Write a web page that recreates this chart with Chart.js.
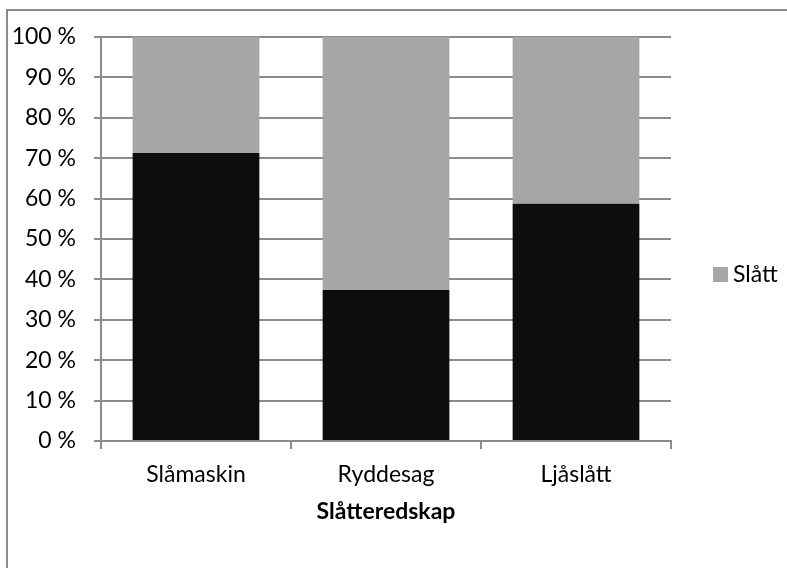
<!DOCTYPE html>
<html>
<head>
<meta charset="utf-8">
<script src="https://cdn.jsdelivr.net/npm/chart.js@4/dist/chart.umd.min.js"></script>
<style>
  html, body { margin: 0; padding: 0; background: #fff; }
  #chart { display: block; }
</style>
</head>
<body>
<canvas id="chart" width="787" height="568"></canvas>
<script>
// data
const categories = ["Slåmaskin", "Ryddesag", "Ljåslått"];
const ikkeSlatt = [71.3, 37.4, 58.7];   // black part
const slatt = [28.7, 62.6, 41.3];       // grey part
const yTicks = [0, 10, 20, 30, 40, 50, 60, 70, 80, 90, 100];
const xTitle = "Slåtteredskap";

const FONT = "Lato, 'Open Sans', sans-serif";
const gridColor = "#8c8c8c";

// outer frame of the chart object
const framePlugin = {
  id: "frame",
  beforeDraw(chart) {
    const ctx = chart.ctx;
    ctx.save();
    ctx.fillStyle = "#fff";
    ctx.fillRect(0, 0, chart.width, chart.height);
    ctx.strokeStyle = "#8a8a8a";
    ctx.lineWidth = 2;
    ctx.strokeRect(7, 10, 900, 700);
    ctx.restore();
  }
};

// legend on the right, only the "Slått" series
const legendPlugin = {
  id: "sideLegend",
  afterDraw(chart) {
    const ctx = chart.ctx;
    const ds = chart.data.datasets[1];
    const x = 713, y = 267;
    ctx.save();
    ctx.fillStyle = ds.backgroundColor;
    ctx.fillRect(x, y, 15, 15);
    ctx.fillStyle = "#000";
    ctx.font = "23px " + FONT;
    ctx.textBaseline = "middle";
    ctx.textAlign = "left";
    ctx.fillText(ds.label, x + 20, y + 8);
    ctx.restore();
  }
};

new Chart(document.getElementById("chart"), {
  type: "bar",
  data: {
    labels: categories,
    datasets: [
      {
        label: "",
        data: ikkeSlatt,
        backgroundColor: "#0d0d0d",
        borderWidth: 0
      },
      {
        label: "Slått",
        data: slatt,
        backgroundColor: "#a6a6a6",
        borderWidth: 0
      }
    ]
  },
  options: {
    responsive: false,
    animation: false,
    barPercentage: 0.667,
    categoryPercentage: 1,
    layout: { padding: { left: 0, top: 37, right: 116, bottom: 39 } },
    plugins: {
      legend: { display: false },
      tooltip: { enabled: false }
    },
    scales: {
      x: {
        stacked: true,
        afterFit: s => { s.height = 88; },
        grid: {
          offset: true,
          drawOnChartArea: false,
          drawTicks: true,
          tickLength: 8,
          color: gridColor,
          lineWidth: 2
        },
        border: { color: gridColor, width: 2 },
        ticks: {
          color: "#000",
          font: { family: FONT, size: 23 },
          padding: 12
        },
        title: {
          display: true,
          text: xTitle,
          color: "#000",
          font: { family: FONT, size: 23, weight: "bold" },
          padding: { top: 6 }
        }
      },
      y: {
        stacked: true,
        min: 0,
        max: 100,
        afterFit: s => { s.width = 101; },
        afterBuildTicks: s => { s.ticks = yTicks.map(v => ({ value: v })); },
        grid: {
          color: gridColor,
          lineWidth: 2,
          tickLength: 7
        },
        border: { color: gridColor, width: 2 },
        ticks: {
          color: "#000",
          font: { family: FONT, size: 23 },
          padding: 18,
          callback: v => v + " %"
        }
      }
    }
  },
  plugins: [framePlugin, legendPlugin]
});
</script>
</body>
</html>
